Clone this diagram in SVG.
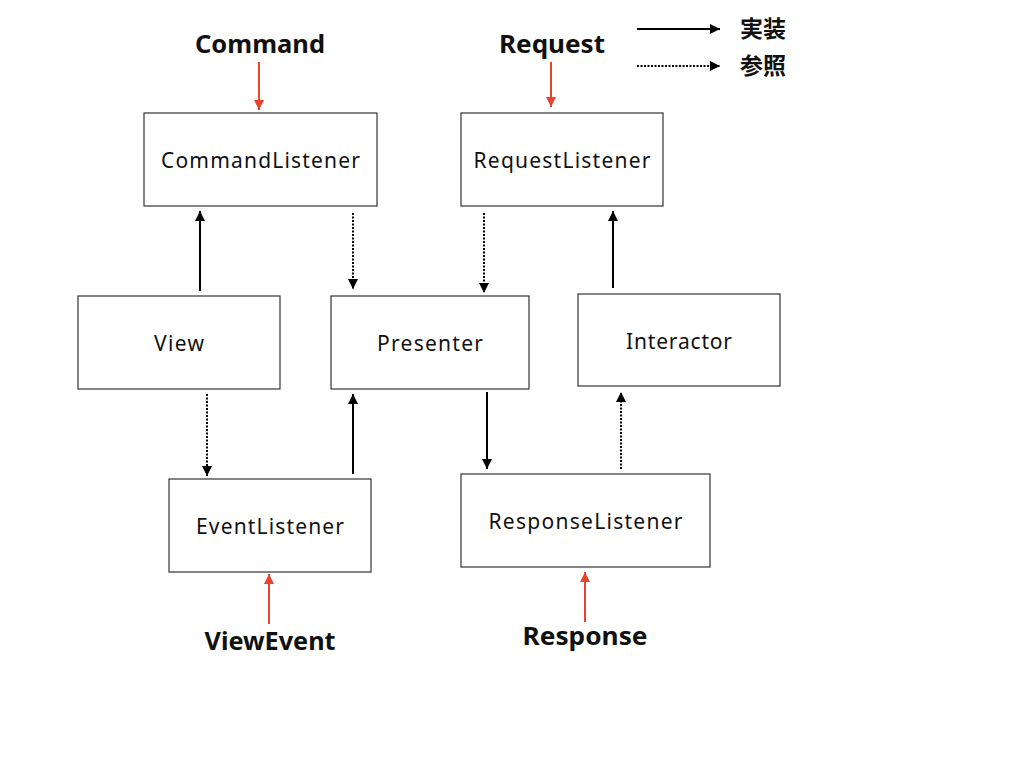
<svg xmlns="http://www.w3.org/2000/svg" width="1024" height="768" viewBox="0 0 1024 768">
<defs>
<marker id="ah" viewBox="0 0 10 10" refX="10" refY="5" markerWidth="10" markerHeight="10" markerUnits="userSpaceOnUse" orient="auto"><path d="M0,0 L10,5 L0,10 z" fill="#000"/></marker>
<marker id="ahr" viewBox="0 0 10 10" refX="10" refY="5" markerWidth="10" markerHeight="10" markerUnits="userSpaceOnUse" orient="auto"><path d="M0,0 L10,5 L0,10 z" fill="#e8432d"/></marker>
</defs>
<style>
.box{fill:#fff;stroke:#333;stroke-width:1.2}
.nt{font-family:"Noto Sans","Liberation Sans",sans-serif;font-size:21px;fill:#111;text-anchor:middle}
.bt{font-family:"Noto Sans","Liberation Sans",sans-serif;font-size:25px;font-weight:bold;fill:#111;text-anchor:middle}
.lt{font-family:"Noto Sans CJK JP",sans-serif;font-size:23px;font-weight:bold;fill:#111}
.s{stroke:#000;stroke-width:2;fill:none;marker-end:url(#ah)}
.d{stroke:#000;stroke-width:2;fill:none;stroke-dasharray:2,1.5;marker-end:url(#ah)}
.r{stroke:#e8432d;stroke-width:2;fill:none;marker-end:url(#ahr)}
</style>
<rect width="1024" height="768" fill="#fff"/>
<g id="commandListener"><rect class="box" x="144" y="113" width="233" height="93"/><text class="nt" x="260.5" y="168" textLength="199" lengthAdjust="spacing">CommandListener</text></g>
<g id="requestListener"><rect class="box" x="461" y="113" width="202" height="93"/><text class="nt" x="562" y="168" textLength="177" lengthAdjust="spacing">RequestListener</text></g>
<g id="view"><rect class="box" x="78" y="296" width="202" height="93"/><text class="nt" x="179" y="351" textLength="50" lengthAdjust="spacing">View</text></g>
<g id="presenter"><rect class="box" x="331" y="296" width="198" height="93"/><text class="nt" x="430" y="351" textLength="106" lengthAdjust="spacing">Presenter</text></g>
<g id="interactor"><rect class="box" x="578" y="294" width="202" height="92"/><text class="nt" x="679" y="349" textLength="106" lengthAdjust="spacing">Interactor</text></g>
<g id="eventListener"><rect class="box" x="169" y="479" width="202" height="93"/><text class="nt" x="270" y="534" textLength="148" lengthAdjust="spacing">EventListener</text></g>
<g id="responseListener"><rect class="box" x="461" y="474" width="249" height="93"/><text class="nt" x="585.5" y="529" textLength="194" lengthAdjust="spacing">ResponseListener</text></g>
<g id="labels">
<text class="bt" x="260" y="53" textLength="130" lengthAdjust="spacingAndGlyphs">Command</text>
<text class="bt" x="552" y="53" textLength="106" lengthAdjust="spacingAndGlyphs">Request</text>
<text class="bt" x="270" y="650" textLength="131" lengthAdjust="spacingAndGlyphs">ViewEvent</text>
<text class="bt" x="585" y="645" textLength="125" lengthAdjust="spacingAndGlyphs">Response</text>
</g>
<g id="connectors">
<line class="r" x1="259" y1="62" x2="259" y2="110"/>
<line class="r" x1="551" y1="62" x2="551" y2="107"/>
<line class="r" x1="269" y1="624" x2="269" y2="574"/>
<line class="r" x1="585" y1="622" x2="585" y2="572"/>
<line class="s" x1="200" y1="291" x2="200" y2="211"/>
<line class="d" x1="353" y1="213" x2="353" y2="289"/>
<line class="d" x1="484" y1="213" x2="484" y2="293"/>
<line class="s" x1="613" y1="288" x2="613" y2="211"/>
<line class="d" x1="207" y1="394" x2="207" y2="476"/>
<line class="s" x1="353" y1="474" x2="353" y2="394"/>
<line class="s" x1="487" y1="392" x2="487" y2="469"/>
<line class="d" x1="621" y1="469" x2="621" y2="392"/>
</g>
<g id="legend">
<line class="s" x1="637" y1="29" x2="720" y2="29"/>
<line class="d" x1="637" y1="66" x2="720" y2="66"/>
<text class="lt" x="740" y="37">実装</text>
<text class="lt" x="740" y="74">参照</text>
</g>
</svg>
